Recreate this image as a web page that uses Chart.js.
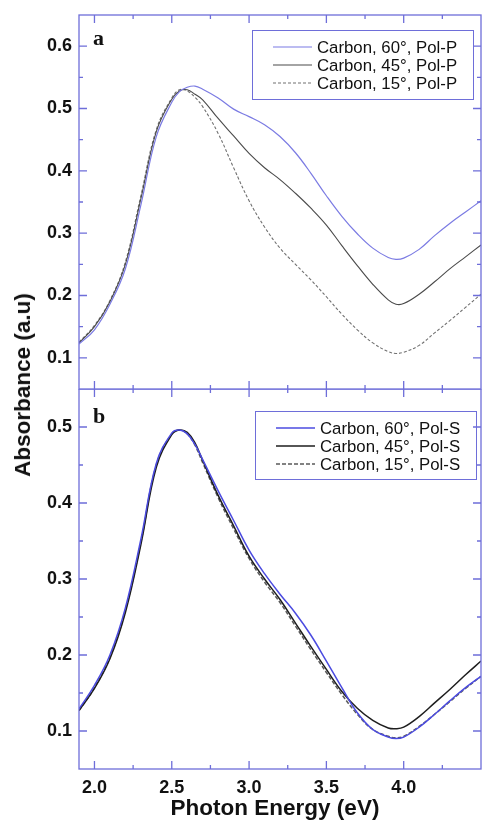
<!DOCTYPE html>
<html>
<head>
<meta charset="utf-8">
<script src="https://cdn.jsdelivr.net/npm/chart.js@4"></script>
<style>
  body { margin: 0; background: #fff; }
  #wrap { position: relative; width: 483px; height: 821px; overflow: hidden;
          font-family: Arial, "Liberation Sans", sans-serif; }
  canvas { position: absolute; left: 0; }
  #cA { top: 0; }
  #cB { top: 389px; }
  .ttl { position: absolute; font-weight: bold; font-size: 22.5px; color: #111;
         white-space: nowrap; transform: translate(-50%, -50%); }
  #ytitle { left: 23px; top: 385px; transform: translate(-50%, -50%) rotate(-90deg); }
  #xtitle { left: 275px; top: 808px; }
</style>
</head>
<body>
<div id="wrap">
  <canvas id="cA" width="483" height="390"></canvas>
  <canvas id="cB" width="483" height="432"></canvas>
  <div class="ttl" id="ytitle">Absorbance (a.u)</div>
  <div class="ttl" id="xtitle">Photon Energy (eV)</div>
</div>
<script>
// ── Daten ───────────────────────────────────────────────────────────────────
const ENERGY = [1.9, 2.0, 2.1, 2.2, 2.3, 2.4, 2.5, 2.55, 2.6, 2.65, 2.7, 2.8, 2.9, 3.0,
                3.1, 3.2, 3.3, 3.4, 3.5, 3.6, 3.7, 3.8, 3.9, 3.95, 4.0, 4.1, 4.2, 4.3, 4.4, 4.5];

// Panel a: Pol-P
const P60 = [0.122, 0.145, 0.186, 0.243, 0.345, 0.455, 0.510, 0.527, 0.534, 0.536, 0.531, 0.517,
             0.499, 0.487, 0.474, 0.455, 0.429, 0.396, 0.360, 0.327, 0.299, 0.276, 0.261, 0.258,
             0.260, 0.274, 0.296, 0.316, 0.334, 0.352];
const P45 = [0.124, 0.150, 0.190, 0.250, 0.355, 0.463, 0.515, 0.528, 0.530, 0.523, 0.514, 0.484,
             0.456, 0.428, 0.405, 0.386, 0.364, 0.340, 0.313, 0.280, 0.248, 0.218, 0.193, 0.186,
             0.187, 0.202, 0.222, 0.243, 0.262, 0.281];
const P15 = [0.125, 0.152, 0.192, 0.254, 0.360, 0.466, 0.517, 0.530, 0.528, 0.518, 0.503, 0.460,
             0.405, 0.352, 0.310, 0.276, 0.250, 0.225, 0.198, 0.170, 0.145, 0.124, 0.110, 0.107,
             0.109, 0.120, 0.140, 0.160, 0.181, 0.202];

// Panel b: Pol-S
const S60 = [0.129, 0.160, 0.200, 0.262, 0.352, 0.452, 0.492, 0.496, 0.491, 0.477, 0.457, 0.416,
             0.377, 0.338, 0.307, 0.280, 0.255, 0.226, 0.192, 0.157, 0.124, 0.102, 0.092, 0.090,
             0.092, 0.105, 0.122, 0.140, 0.157, 0.172];
const S45 = [0.127, 0.156, 0.195, 0.256, 0.345, 0.447, 0.490, 0.496, 0.493, 0.479, 0.456, 0.410,
             0.370, 0.330, 0.300, 0.273, 0.242, 0.211, 0.181, 0.152, 0.130, 0.114, 0.104, 0.103,
             0.105, 0.119, 0.137, 0.155, 0.174, 0.192];
const S15 = [0.127, 0.157, 0.197, 0.259, 0.348, 0.450, 0.491, 0.496, 0.491, 0.476, 0.453, 0.407,
             0.366, 0.327, 0.296, 0.269, 0.238, 0.207, 0.177, 0.148, 0.122, 0.102, 0.093, 0.091,
             0.093, 0.106, 0.122, 0.139, 0.156, 0.172];

const LABELS_P = ['Carbon, 60°, Pol-P', 'Carbon, 45°, Pol-P', 'Carbon, 15°, Pol-P'];
const LABELS_S = ['Carbon, 60°, Pol-S', 'Carbon, 45°, Pol-S', 'Carbon, 15°, Pol-S'];

const X_MAJOR = [2.0, 2.5, 3.0, 3.5, 4.0];
const X_MINOR = [2.25, 2.75, 3.25, 3.75, 4.25];
const YA_MAJOR = [0.1, 0.2, 0.3, 0.4, 0.5, 0.6];
const YA_MINOR = [0.15, 0.25, 0.35, 0.45, 0.55];
const YB_MAJOR = [0.1, 0.2, 0.3, 0.4, 0.5];
const YB_MINOR = [0.15, 0.25, 0.35, 0.45];

// ── Stil ────────────────────────────────────────────────────────────────────
const FRAME = '#6e6ed9';
const TICKFONT = { family: 'Arial, "Liberation Sans", sans-serif', size: 18, weight: 'bold' };
Chart.defaults.font.family = 'Arial, "Liberation Sans", sans-serif';

const pts = ys => ENERGY.map((x, i) => ({ x, y: ys[i] }));

// Rahmen, Ticks nach innen, Legende im Kasten und Panel-Buchstabe.
const framePlugin = {
  id: 'frame',
  afterDraw(ch, args, o) {
    const { ctx, chartArea: a, scales: { x, y } } = ch;
    ctx.save();
    ctx.strokeStyle = FRAME;
    ctx.lineWidth = 1.3;
    ctx.strokeRect(a.left, a.top, a.right - a.left, a.bottom - a.top);
    const xt = (v, len) => {
      const px = x.getPixelForValue(v);
      ctx.beginPath();
      ctx.moveTo(px, a.bottom); ctx.lineTo(px, a.bottom - len);
      ctx.moveTo(px, a.top); ctx.lineTo(px, a.top + len);
      ctx.stroke();
    };
    const yt = (v, len) => {
      const py = y.getPixelForValue(v);
      ctx.beginPath();
      ctx.moveTo(a.left, py); ctx.lineTo(a.left + len, py);
      ctx.moveTo(a.right, py); ctx.lineTo(a.right - len, py);
      ctx.stroke();
    };
    X_MAJOR.forEach(v => xt(v, 8));
    X_MINOR.forEach(v => xt(v, 4));
    o.yMajor.forEach(v => yt(v, 8));
    o.yMinor.forEach(v => yt(v, 4));

    // Legende
    const L = o.legend;
    const bx = a.left + L.dx, by = a.top + L.dy;
    ctx.lineWidth = 1;
    ctx.strokeRect(bx + .5, by + .5, L.w, L.h);
    ctx.font = '16.8px Arial, "Liberation Sans", sans-serif';
    ctx.textBaseline = 'middle';
    ctx.fillStyle = '#111';
    ch.data.datasets.forEach((ds, i) => {
      const ry = by + 17 + i * 18;
      ctx.save();
      ctx.strokeStyle = ds.borderColor;
      ctx.lineWidth = ds.borderWidth;
      ctx.setLineDash(ds.borderDash || []);
      ctx.beginPath();
      ctx.moveTo(bx + 21, ry); ctx.lineTo(bx + 60, ry);
      ctx.stroke();
      ctx.restore();
      ctx.fillText(ds.label, bx + 65, ry + 1);
    });

    ctx.font = 'bold 22px "Liberation Serif", "Times New Roman", serif';
    ctx.textBaseline = 'alphabetic';
    ctx.fillText(o.letter, a.left + 14, a.top + o.letterY);
    ctx.restore();
  },
};

function makeChart(id, series, labels, styles, yMin, yMax, yMajor, yMinor, bottom, opts) {
  return new Chart(document.getElementById(id), {
    type: 'line',
    data: {
      datasets: series.map((s, i) => ({
        label: labels[i], data: pts(s),
        borderColor: styles[i].color, borderWidth: styles[i].width,
        borderDash: styles[i].dash, pointRadius: 0, fill: false, tension: 0.4,
      })),
    },
    options: {
      responsive: false, animation: false, devicePixelRatio: 1,
      layout: { padding: opts.padding },
      events: [],
      scales: {
        x: {
          type: 'linear', min: 1.9, max: 4.5, display: bottom,
          grid: { display: false, drawTicks: false }, border: { display: false },
          afterBuildTicks: s => { s.ticks = X_MAJOR.map(value => ({ value })); },
          // Nur das untere Panel hat eine sichtbare x-Achse.
          afterFit: s => { s.height = bottom ? 52 : 0; },
          ticks: { color: '#111', font: TICKFONT, padding: 8, autoSkip: false, maxRotation: 0,
                   callback: v => v.toFixed(1) },
        },
        y: {
          type: 'linear', min: yMin, max: yMax,
          grid: { display: false, drawTicks: false }, border: { display: false },
          afterBuildTicks: s => { s.ticks = yMajor.map(value => ({ value })); },
          // Feste Breite; kein Label-Ueberhang, sonst schrumpft die Plotflaeche.
          afterFit: s => { s.width = 79; s.paddingTop = 0; s.paddingBottom = 0; },
          ticks: { color: '#111', font: TICKFONT, padding: 7, callback: v => v.toFixed(1) },
        },
      },
      plugins: {
        legend: { display: false }, tooltip: { enabled: false },
        frame: { yMajor, yMinor, legend: opts.legend, letter: opts.letter, letterY: opts.letterY },
      },
    },
    plugins: [framePlugin],
  });
}

makeChart('cA', [P60, P45, P15], LABELS_P, [
  { color: '#7b7be3', width: 1.2 },
  { color: '#4a4a4a', width: 1.1 },
  { color: '#707070', width: 1.1, dash: [3, 2] },
], 0.05, 0.65, YA_MAJOR, YA_MINOR, false,
  { padding: { top: 15, bottom: 1, right: 2 }, letter: 'a', letterY: 30,
    legend: { dx: 173, dy: 15, w: 221, h: 69 } });

makeChart('cB', [S60, S45, S15], LABELS_S, [
  { color: '#4b4be0', width: 1.5 },
  { color: '#1e1e1e', width: 1.5 },
  { color: '#5a5a5a', width: 1.5, dash: [4, 2] },
], 0.05, 0.55, YB_MAJOR, YB_MINOR, true,
  { padding: { top: 0, bottom: 0, right: 2 }, letter: 'b', letterY: 34,
    legend: { dx: 176, dy: 22, w: 221, h: 68 } });
</script>
</body>
</html>
